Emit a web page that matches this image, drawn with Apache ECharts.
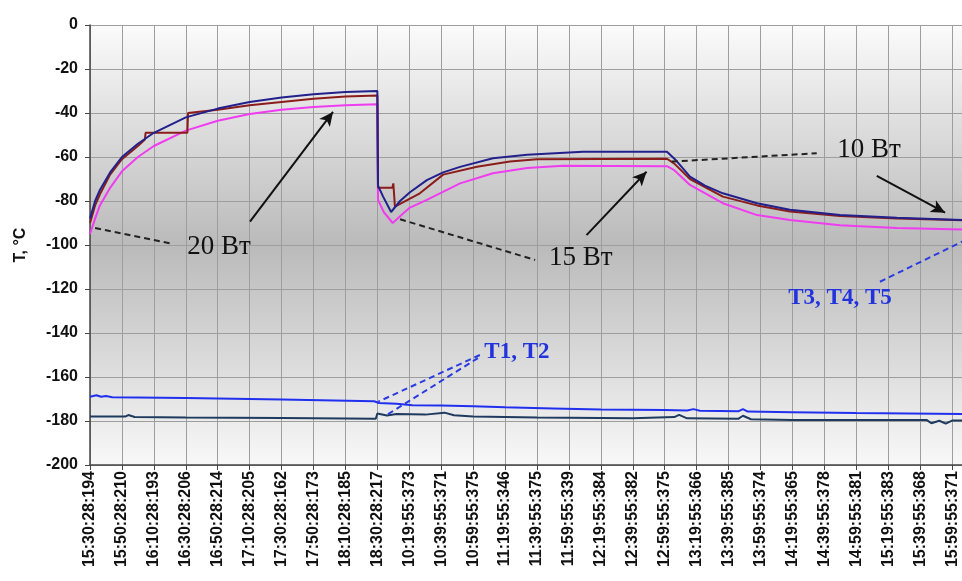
<!DOCTYPE html>
<html>
<head>
    <meta charset="utf-8">
    <script src="https://cdn.jsdelivr.net/npm/echarts@6/dist/echarts.min.js"></script>
    <style type="text/css">
        html, body { margin: 0; padding: 0; background: #fff; }
        #main { width: 962px; height: 581px; }
    </style>
</head>
<body>
    <div id="main"></div>
    <script>
        // подписи оси X (время отсчётов), по одной на деление
        var timeLabels = ['15:30:28:194', '15:50:28:210', '16:10:28:193', '16:30:28:206', '16:50:28:214',
            '17:10:28:205', '17:30:28:162', '17:50:28:173', '18:10:28:185', '18:30:28:217',
            '10:19:55:373', '10:39:55:371', '10:59:55:375', '11:19:55:346', '11:39:55:375',
            '11:59:55:339', '12:19:55:384', '12:39:55:382', '12:59:55:375', '13:19:55:366',
            '13:39:55:385', '13:59:55:374', '14:19:55:365', '14:39:55:378', '14:59:55:381',
            '15:19:55:383', '15:39:55:368', '15:59:55:371'];
        var xMax = 27.31;

        // [положение по оси X (в делениях), T, °C]
        var t3 = [[0, -88], [0.16, -80], [0.31, -75], [0.63, -67], [1, -60], [1.5, -54], [2, -49],
            [3, -42], [4, -38], [5, -35], [6, -33], [7, -31.5], [8, -30.5], [9, -30],
            [9.02, -73], [9.18, -78], [9.43, -85], [9.71, -80], [10.02, -76], [10.55, -70.5],
            [11.06, -67], [11.59, -64.5], [12.62, -60.6], [13.69, -59], [15.44, -57.6], [18.07, -57.6],
            [18.32, -61], [18.79, -68.9], [19.26, -73], [19.82, -76.5], [20.89, -81], [21.92, -84],
            [23.49, -86.4], [25.27, -87.6], [27.31, -88.6]];
        var t4 = [[0, -90], [0.16, -82], [0.31, -77], [0.63, -68], [1, -61], [1.5, -55], [1.72, -52],
            [1.74, -49], [3.05, -49], [3.07, -40], [4, -38.5], [5, -36.5], [6, -35], [7, -33.5],
            [8, -32.5], [9, -32], [9.02, -74], [9.47, -74], [9.5, -72], [9.55, -82.6], [10.33, -76.5],
            [11.06, -68], [12.12, -64.4], [13.15, -62], [14, -61], [18.07, -60.8],
            [18.3, -63], [18.79, -70], [19.82, -78], [20.89, -82], [21.92, -84.8], [23.49, -86.8],
            [25.27, -88], [27.31, -88.8]];
        var t5 = [[0, -95], [0.16, -88], [0.31, -82], [0.63, -74], [1, -66.5], [1.5, -60], [2, -55],
            [3, -48], [4, -43.5], [5, -40.5], [6, -38.5], [7, -37.3], [8, -36.5], [9, -36],
            [9.02, -79.5], [9.2, -85], [9.48, -90], [9.78, -86], [10.02, -83], [10.55, -79.5],
            [11.59, -72], [12.62, -67.4], [13.69, -65], [14.82, -64], [18.07, -64.2],
            [18.3, -66], [18.79, -72.7], [19.82, -81], [20.89, -86.4], [21.92, -88.6], [23.49, -91],
            [25.27, -92.3], [27.31, -93]];
        var t1 = [[0, -169], [0.2, -168.3], [0.35, -169], [0.5, -168.6], [0.7, -169.2], [3, -169.5],
            [6, -170.2], [8.9, -171], [9.05, -171.8], [9.6, -172.2], [10.1, -172.8], [11, -173],
            [12, -173.3], [13, -173.8], [14.5, -174.3], [16, -174.8], [18, -175], [18.7, -175.2],
            [18.9, -174.6], [19.1, -175.3], [20.3, -175.6], [20.45, -174.6], [20.6, -175.7],
            [22, -176], [24, -176.4], [27.31, -176.8]];
        var t2 = [[0, -178], [1.1, -178], [1.2, -177.3], [1.4, -178.2], [3, -178.4], [6, -178.6],
            [8.95, -179], [9.0, -176.6], [9.3, -177.5], [9.6, -176.8], [10.5, -177.1],
            [11.1, -176.2], [11.4, -177.4], [12, -178], [14, -178.4], [17, -178.8], [18.3, -178.2],
            [18.45, -177.2], [18.7, -178.8], [20.3, -179], [20.45, -177.6], [20.7, -179.2],
            [22, -179.5], [26.2, -179.5], [26.35, -181], [26.6, -179.9], [26.8, -181.2],
            [27.0, -179.8], [27.31, -179.8]];

        // подписи и стрелки на графике: [текст, x, y]
        var notes = [['20 Вт', 4.04, -100.9], ['15 Вт', 15.37, -105.9], ['10 Вт', 24.4, -56.8]];
        var blueNotes = [['T3, T4, T5', 23.49, -124.1], ['T1, T2', 13.37, -148.6]];
        // [x1, y1, x2, y2]
        var arrows = [[5.01, -89.4, 7.61, -39.5], [15.55, -95.5, 17.43, -66.7], [24.64, -68.6, 26.78, -85.3]];
        var blackDashes = [[0.16, -92.3, 2.6, -99.5], [9.71, -88.3, 13.94, -106.8], [18.22, -62.1, 22.76, -58.3]];
        var blueDashes = [[24.74, -116.7, 27.31, -98.5], [12.21, -150, 9.03, -171.2], [12.15, -151.4, 9.29, -177.3]];

        var myChart = echarts.init(document.getElementById('main'));

        function lineSeries(name, data, color) {
            return {
                name: name,
                type: 'line',
                data: data,
                symbol: 'none',
                lineStyle: { color: color, width: 2 },
                z: 3
            };
        }

        var markData = [];
        arrows.forEach(function (a) {
            markData.push([
                { coord: [a[0], a[1]], symbol: 'none' },
                { coord: [a[2], a[3]], symbol: 'arrow', symbolSize: [10, 14], lineStyle: { color: '#111', width: 2, type: 'solid' } }
            ]);
        });
        blackDashes.forEach(function (a) {
            markData.push([
                { coord: [a[0], a[1]], symbol: 'none' },
                { coord: [a[2], a[3]], symbol: 'none', lineStyle: { color: '#222', width: 2, type: [6, 4] } }
            ]);
        });
        blueDashes.forEach(function (a) {
            markData.push([
                { coord: [a[0], a[1]], symbol: 'none' },
                { coord: [a[2], a[3]], symbol: 'none', lineStyle: { color: '#2a3be0', width: 2, type: [6, 4] } }
            ]);
        });

        var pointData = [];
        notes.forEach(function (n) {
            pointData.push({
                name: n[0], coord: [n[1], n[2]],
                label: { fontFamily: 'Liberation Serif', fontSize: 27, color: '#111' }
            });
        });
        blueNotes.forEach(function (n) {
            pointData.push({
                name: n[0], coord: [n[1], n[2]],
                label: { fontFamily: 'Liberation Serif', fontSize: 23, fontWeight: 'bold', color: '#2233dd' }
            });
        });

        var option = {
            animation: false,
            grid: {
                left: 90, top: 25, right: 0, bottom: 116,
                show: true,
                borderWidth: 0,
                backgroundColor: {
                    type: 'linear', x: 0, y: 0, x2: 0, y2: 1,
                    colorStops: [
                        { offset: 0, color: '#fbfbfb' },
                        { offset: 0.5, color: '#bababa' },
                        { offset: 1, color: '#f8f8f8' }
                    ]
                }
            },
            xAxis: {
                type: 'value',
                min: 0,
                max: xMax,
                interval: 1,
                axisLine: { show: true, onZero: false, lineStyle: { color: '#444', width: 1.5 } },
                axisTick: { show: true, length: 5, lineStyle: { color: '#444' } },
                splitLine: { show: true, lineStyle: { color: '#9e9e9e', width: 1 } },
                axisLabel: {
                    rotate: 90,
                    margin: 6,
                    fontFamily: 'Liberation Sans',
                    fontWeight: 'bold',
                    fontSize: 16,
                    color: '#111',
                    showMaxLabel: false,
                    formatter: function (v) {
                        return Number.isInteger(v) && timeLabels[v] ? timeLabels[v] : '';
                    }
                }
            },
            yAxis: {
                type: 'value',
                min: -200,
                max: 0,
                interval: 20,
                name: 'T, °C',
                nameLocation: 'middle',
                nameRotate: 90,
                nameGap: 61,
                nameTextStyle: { fontFamily: 'Liberation Sans', fontWeight: 'bold', fontSize: 16, color: '#111' },
                axisLine: { show: true, lineStyle: { color: '#444', width: 1.5 } },
                axisTick: { show: true, length: 5, lineStyle: { color: '#444' } },
                splitLine: { show: true, lineStyle: { color: '#9e9e9e', width: 1 } },
                axisLabel: {
                    margin: 12,
                    fontFamily: 'Liberation Sans',
                    fontWeight: 'bold',
                    fontSize: 16,
                    color: '#111'
                }
            },
            series: [
                lineSeries('T1', t1, '#2030ee'),
                lineSeries('T2', t2, '#1f3a5f'),
                lineSeries('T5', t5, '#f03cf0'),
                lineSeries('T4', t4, '#8c1c1c'),
                lineSeries('T3', t3, '#22208c'),
                {
                    name: 'notes',
                    type: 'line',
                    data: [],
                    silent: true,
                    z: 5,
                    markLine: {
                        silent: true,
                        symbol: 'none',
                        label: { show: false },
                        data: markData
                    },
                    markPoint: {
                        silent: true,
                        symbol: 'circle',
                        symbolSize: 0,
                        label: { show: true, position: 'inside', formatter: '{b}' },
                        data: pointData
                    }
                }
            ]
        };
        myChart.setOption(option);
    </script>
</body>
</html>
